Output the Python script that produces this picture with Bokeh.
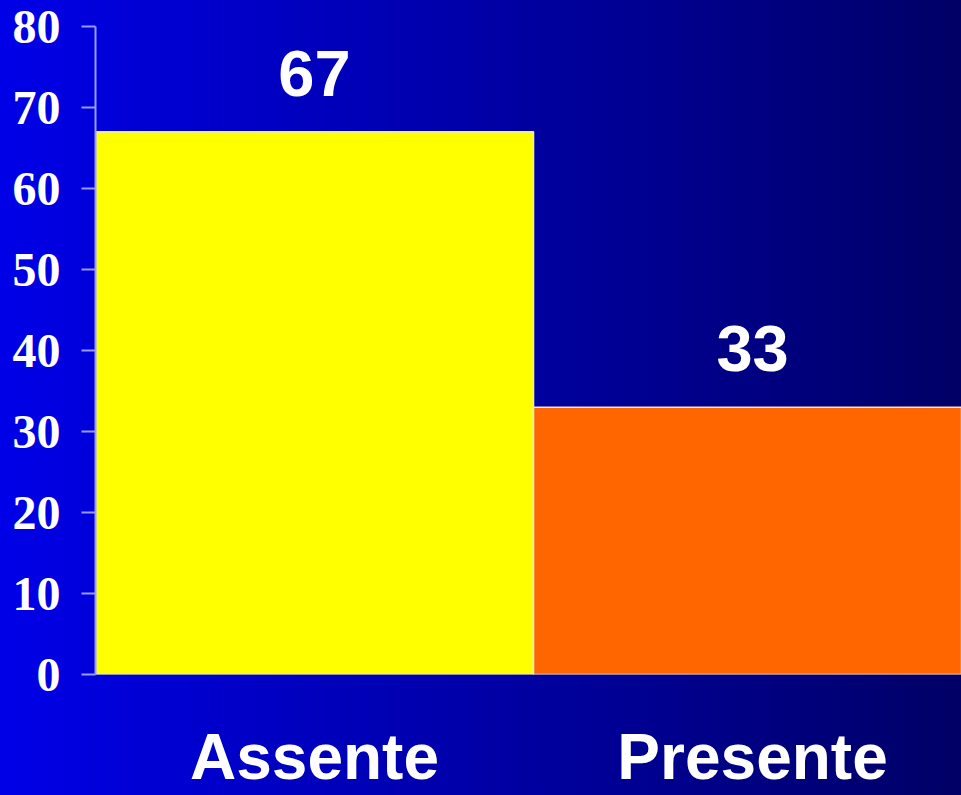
from bokeh.plotting import figure
from bokeh.models import Range1d, FixedTicker, ColumnDataSource
from bokeh.embed import file_html
from bokeh.resources import INLINE
from bokeh.core.properties import value

# Data
categories = ["Assente", "Presente"]
percentages = [67, 33]
bar_colors = ["#ffff00", "#ff6600"]
y_ticks = [0, 10, 20, 30, 40, 50, 60, 70, 80]

positions = list(range(len(categories)))
source = ColumnDataSource(dict(
    x=positions,
    top=percentages,
    color=bar_colors,
    label=[str(v) for v in percentages],
))

p = figure(
    width=961, height=795,
    x_range=Range1d(-0.5, 1.477),
    y_range=Range1d(0, 80),
    output_backend="svg",
    toolbar_location=None,
    min_border_left=95, min_border_right=0,
    min_border_top=26, min_border_bottom=121,
)

# Horizontal blue gradient behind a transparent canvas
p.background_fill_alpha = 0
p.border_fill_alpha = 0
p.outline_line_color = None
p.styles = {"background": "linear-gradient(to right, #0000e8, #000066)"}
p.grid.visible = False

p.vbar(x="x", top="top", width=1.0, bottom=0, source=source,
       fill_color="color", line_color="#e6e6e6", line_width=1.5)

p.text(x="x", y="top", text="label", source=source,
       text_font=value("Liberation Sans"), text_font_style="bold",
       text_font_size="65px", text_color="white",
       text_align="center", text_baseline="bottom", y_offset=-36)

# Y axis: serif bold labels
ya = p.yaxis[0]
ya.ticker = FixedTicker(ticks=y_ticks)
ya.minor_tick_line_color = None
ya.axis_line_color = "#9a9aff"
ya.axis_line_width = 2
ya.major_tick_line_color = "#9a9aff"
ya.major_tick_line_width = 2
ya.major_tick_out = 14
ya.major_tick_in = 0
ya.major_label_standoff = 21
ya.major_label_text_font = "Liberation Serif"
ya.major_label_text_font_style = "bold"
ya.major_label_text_font_size = "48px"
ya.major_label_text_color = "white"

# X axis: category names
xa = p.xaxis[0]
xa.ticker = FixedTicker(ticks=positions)
xa.major_label_overrides = {i: c for i, c in zip(positions, categories)}
xa.axis_line_color = None
xa.major_tick_line_color = None
xa.minor_tick_line_color = None
xa.major_tick_out = 0
xa.major_tick_in = 0
xa.major_label_standoff = 46
xa.major_label_text_font = "Liberation Sans"
xa.major_label_text_font_style = "bold"
xa.major_label_text_font_size = "64px"
xa.major_label_text_color = "white"

with open("out.html", "w") as f:
    f.write(file_html(p, INLINE))
